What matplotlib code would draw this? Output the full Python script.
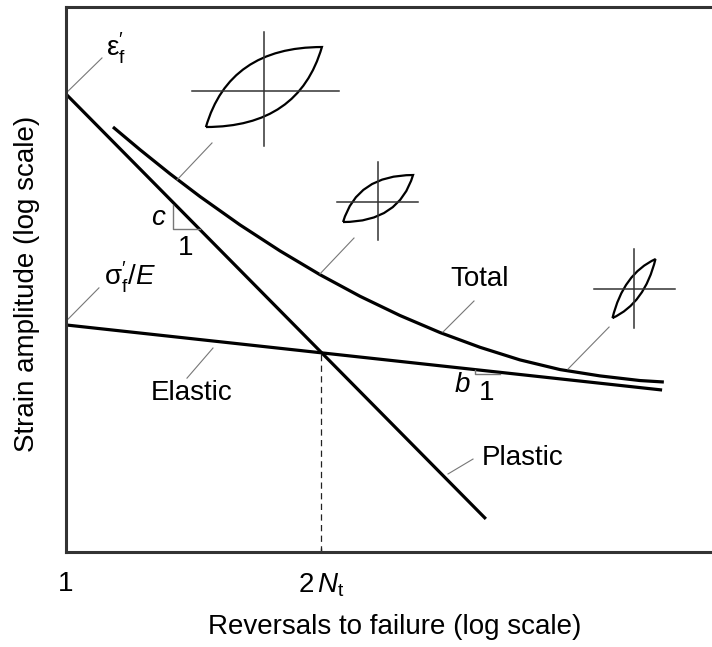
import matplotlib.pyplot as plt
import matplotlib.transforms as mtransforms
from matplotlib.path import Path
from matplotlib.patches import PathPatch

plt.rcParams['font.family'] = 'Liberation Sans'
plt.rcParams['mathtext.fontset'] = 'custom'
plt.rcParams['mathtext.rm'] = 'Liberation Sans'
plt.rcParams['mathtext.it'] = 'Liberation Sans:italic'

# strain-life lines: reversals to failure (2N) vs strain amplitude
elastic_n = [1, 1.03e7]
elastic_eps = [4.69e-4, 8.05e-5]
plastic_n = [1, 8.7e4]
plastic_eps = [0.244, 2.45e-6]
total_n = [3.57, 7.42, 16.7, 37.7, 111, 329, 973, 2877, 8490, 25100,
           74300, 2.19e5, 6.49e5, 1.91e6, 5.66e6, 1.08e7]
total_eps = [0.1, 0.0541, 0.0282, 0.0152, 7.07e-3, 3.49e-3, 1.83e-3, 1.02e-3,
             6.06e-4, 3.82e-4, 2.56e-4, 1.82e-4, 1.40e-4, 1.18e-4, 1.04e-4, 1.0e-4]

# transition life, where elastic and plastic lines cross
transition_n = 1000
transition_eps = 2.22e-4

# hysteresis loop sketches along the total curve
loop_n = [213, 4690, 4.81e6]
loop_eps = [0.265, 0.0131, 1.24e-3]

tick_values = [1, transition_n]
tick_labels = ['1', r'$2\,\mathit{N}_{\mathrm{t}}$']

fig = plt.figure(figsize=(7.12, 6.47), dpi=100)
ax = fig.add_axes([66 / 712, 95 / 647, 646 / 712, 545 / 647])
ax.set_xscale('log')
ax.set_yscale('log')

lw = 2.3
ax.plot(elastic_n, elastic_eps, color='black', lw=lw, solid_capstyle='butt')
ax.plot(plastic_n, plastic_eps, color='black', lw=lw, solid_capstyle='butt')
ax.plot(total_n, total_eps, color='black', lw=lw, solid_capstyle='butt',
        solid_joinstyle='round')
ax.plot([transition_n, transition_n], [1e-6, transition_eps], color='#222222',
        lw=0.9, ls=(0, (5, 3.5)))

# thin leader lines and labels
lead = dict(color='#777777', lw=0.8)
leaders = [
    ([1.06, 2.65], [0.265, 0.649]),
    ([1.06, 2.44], [5.5e-4, 1.28e-3]),
    ([20.2, 52.2], [0.0238, 0.0649]),
    ([973, 2445], [1.87e-3, 4.94e-3]),
    ([27200, 63100], [3.87e-4, 8.97e-4]),
    ([8.05e5, 2.45e6], [1.42e-4, 4.43e-4]),
    ([53.6, 26.5], [2.51e-4, 1.11e-4]),
    ([31200, 61400], [8.28e-6, 1.24e-5]),
]
for xs, ys in leaders:
    ax.plot(xs, ys, **lead)

fs = 20
ax.text(2.95, 0.849, r'$\mathrm{ε}_{\mathrm{f}}^{\prime}$', fontsize=fs,
        ha='left', va='center')
ax.text(2.8, 1.72e-3, r'$\mathrm{σ}_{\mathrm{f}}^{\prime}/\mathit{E}$', fontsize=fs,
        ha='left', va='center')
ax.text(32900, 1.63e-3, 'Total', fontsize=fs, ha='left', va='center')
ax.text(30.4, 7.43e-5, 'Elastic', fontsize=fs, ha='center', va='center')
ax.text(78400, 1.28e-5, 'Plastic', fontsize=fs, ha='left', va='center')

# slope triangles
tri = dict(color='#777777', lw=1.0)
ax.plot([18.2, 18.2, 37.7], [0.0121, 6.3e-3, 6.3e-3], **tri)
ax.plot([64900, 64900, 1.28e5], [1.40e-4, 1.24e-4, 1.24e-4], **tri)
ax.text(12.4, 8.5e-3, r'$\mathit{c}$', fontsize=fs, ha='center', va='center')
ax.text(25.8, 3.77e-3, '1', fontsize=fs, ha='center', va='center')
ax.text(45600, 9.2e-5, r'$\mathit{b}$', fontsize=fs, ha='center', va='center')
ax.text(89700, 7.43e-5, '1', fontsize=fs, ha='center', va='center')

# loop glyphs, sized in pixels around their anchor
loop_style = [
    dict(w=58, h=40, bulge=(-0.6, 1.0), dy=4, cross=(72, 75, 55, 59)),
    dict(w=35, h=23.5, bulge=(-0.6, 1.0), dy=3.5, cross=(41, 40, 38, 40)),
    dict(w=21.5, h=29.5, bulge=(-0.5, 0.5), dy=0.5, cross=(40, 41, 39, 40)),
]
for n, eps, st in zip(loop_n, loop_eps, loop_style):
    anchor = mtransforms.ScaledTranslation(n, eps, ax.transData)
    bx, by = st['bulge']
    verts = [(-1, -1), (bx, by), (1, 1), (-bx, -by), (-1, -1)]
    codes = [Path.MOVETO, Path.CURVE3, Path.CURVE3, Path.CURVE3, Path.CURVE3]
    shape = mtransforms.Affine2D().scale(st['w'], st['h']).translate(0, st['dy'])
    ax.add_patch(PathPatch(Path(verts, codes), facecolor='none', edgecolor='black',
                           lw=1.6, transform=shape + anchor, clip_on=False))
    left, right, down, up = st['cross']
    base = mtransforms.IdentityTransform() + anchor
    ax.plot([-left, right], [0, 0], color='#333333', lw=1.1, transform=base,
            clip_on=False)
    ax.plot([0, 0], [-down, up], color='#333333', lw=1.1, transform=base,
            clip_on=False)

ax.set_xlim(1, 10 ** (646 / 85))
ax.set_ylim(1e-6, 10 ** (545 / 85 - 6))

for side in ['left', 'top', 'bottom']:
    ax.spines[side].set_linewidth(2.2)
    ax.spines[side].set_color('#333333')
ax.spines['right'].set_visible(False)

ax.set_xticks(tick_values)
ax.set_xticklabels(tick_labels, fontsize=fs)
ax.minorticks_off()
ax.set_yticks([])
ax.tick_params(axis='x', direction='in', length=3, width=1, pad=14, color='#333333')

ax.set_xlabel('Reversals to failure (log scale)', fontsize=fs, va='center')
ax.xaxis.set_label_coords(0.509, -0.1376)
ax.set_ylabel('Strain amplitude (log scale)', fontsize=fs, va='center')
ax.yaxis.set_label_coords(-0.0604, 0.492)

fig.savefig('out.png', dpi=100)
